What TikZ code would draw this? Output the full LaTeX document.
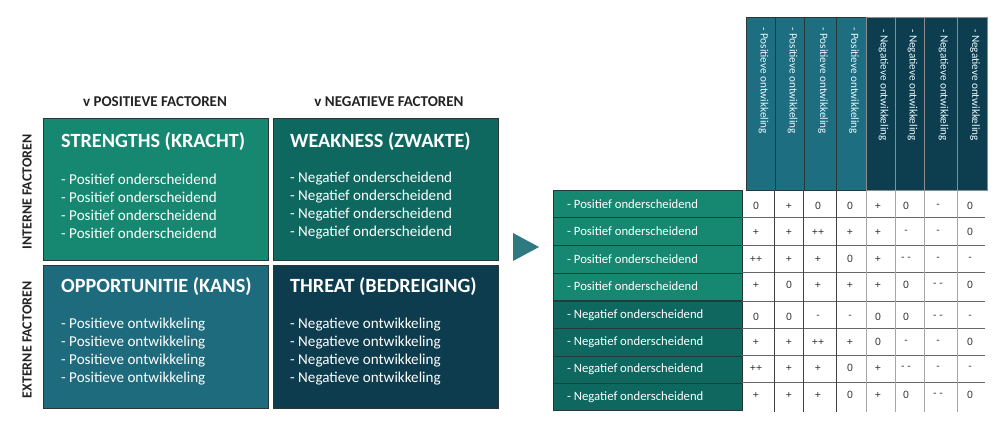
\documentclass[tikz,border=0pt]{standalone}
\usepackage{fontspec}
\setmainfont{Carlito}
\newfontfamily\valfont{Liberation Sans}
\definecolor{sgreen}{RGB}{22,135,112}
\definecolor{wteal}{RGB}{14,104,96}
\definecolor{oblue}{RGB}{29,107,125}
\definecolor{tnavy}{RGB}{13,60,78}
\definecolor{hpos}{RGB}{29,110,128}
\definecolor{hneg}{RGB}{12,62,80}
\definecolor{arrowc}{RGB}{46,122,128}
\definecolor{edgec}{RGB}{40,55,55}
\definecolor{labc}{RGB}{35,35,35}
\definecolor{valc}{RGB}{50,50,50}
\begin{document}
\begin{tikzpicture}[x=1pt,y=-1pt,
  quad/.style={draw=edgec, line width=0.8pt, anchor=north west, inner sep=0pt, minimum width=225, minimum height=142},
  qtitle/.style={anchor=west, text=white, font=\fontsize{20.2}{23}\selectfont\bfseries, inner sep=0pt},
  qline/.style={anchor=west, text=white, font=\fontsize{15.1}{18}\selectfont, inner sep=0pt},
  collab/.style={font=\fontsize{15}{17}\selectfont\bfseries, text=labc, inner sep=0pt},
  sidelab/.style={font=\fontsize{14}{16}\selectfont\bfseries, text=labc, rotate=90, inner sep=0pt},
  hdrbox/.style={anchor=north west, inner sep=0pt, minimum height=173, line width=0.8pt},
  hdrtext/.style={rotate=-90, anchor=west, text=white!92!cyan, font=\fontsize{11.2}{13}\selectfont, inner sep=0pt},
  rowbox/.style={draw=edgec, line width=0.8pt, anchor=north west, inner sep=0pt, minimum width=189},
  rowtext/.style={anchor=west, text=white, font=\fontsize{12.7}{14}\selectfont, inner sep=0pt},
  valtext/.style={text=valc, font=\valfont\fontsize{10.5}{12}\selectfont, inner sep=0pt},
  hline/.style={draw=black!60, line width=0.8pt},
  vdark/.style={draw=black!75, line width=0.9pt},
  vlight/.style={draw=black!35, line width=0.9pt}
]
\useasboundingbox (0,0) rectangle (1000,430);

% column and side labels
\node[collab] (cpos) at (155,102) {v POSITIEVE FACTOREN};
\node[collab] (cneg) at (389,102) {v NEGATIEVE FACTOREN};
\node[sidelab] (sint) at (27,192) {INTERNE FACTOREN};
\node[sidelab] (sext) at (27,340) {EXTERNE FACTOREN};

% quadrants
\node[quad, fill=sgreen] (S) at (43,118) {};
\node[quad, fill=wteal] (W) at (273,118) {};
\node[quad, fill=oblue, minimum height=143] (O) at (43,265) {};
\node[quad, fill=tnavy, minimum height=143] (T) at (273,265) {};

\node[qtitle] (St) at (61,142) {STRENGTHS (KRACHT)};
\node[qtitle] (Wt) at (290,142) {WEAKNESS (ZWAKTE)};
\node[qtitle] (Ot) at (61,287) {OPPORTUNITIE (KANS)};
\node[qtitle] (Tt) at (290,287) {THREAT (BEDREIGING)};

\foreach \i in {1,...,4} {
  \node[qline] (S\i) at (61,161+18*\i) {- Positief onderscheidend};
  \node[qline] (W\i) at (290,161+18*\i) {- Negatief onderscheidend};
  \node[qline] (O\i) at (61,307+18*\i) {- Positieve ontwikkeling};
  \node[qline] (T\i) at (290,307+18*\i) {- Negatieve ontwikkeling};
}

% arrow
\fill[arrowc] (513,233) -- (539,247) -- (513,261) -- cycle;

% header columns
\foreach \a/\b [count=\i] in {746/775,775/804,804/836,836/866} {
  \node[hdrbox, fill=hpos, draw=edgec, minimum width={\b-\a}] (hp\i) at (\a,17) {};
  \node[hdrtext] (hpt\i) at ({(\a+\b)/2+3},27) {- Positieve ontwikkeling};
}
\foreach \a/\b [count=\i] in {866/895,895/924,924/957,957/987} {
  \node[hdrbox, fill=hneg, draw=black!45, minimum width={\b-\a}] (hn\i) at (\a,17) {};
  \node[hdrtext] (hnt\i) at ({(\a+\b)/2+3},29) {- Negatieve ontwikkeling};
}

% row labels
\foreach \t [count=\i] in {190,217.5,245,272.5} {
  \node[rowbox, fill=sgreen, minimum height=27.5] (rp\i) at (553,\t) {};
  \node[rowtext] (rpt\i) at (567,\t+14) {- Positief onderscheidend};
}
\foreach \t [count=\i] in {301,328.25,355.5,382.75} {
  \node[rowbox, fill=wteal, minimum height=27.25] (rn\i) at (553,\t) {};
  \node[rowtext] (rnt\i) at (567,\t+14) {- Negatief onderscheidend};
}

% grid lines
\foreach \y in {217.5,245,272.5,301,328.25,355.5,382.75} {
  \draw[hline] (742,\y) -- (985,\y);
}
\foreach \x in {774,803,836} { \draw[vdark] (\x,190) -- (\x,412); }
\foreach \x in {866,895,924,957} { \draw[vlight] (\x,190) -- (\x,412); }

% values
\foreach \vals/\yy [count=\r] in {
  {0,+,0,0,+,0,-,0}/206,
  {+,+,++,+,+,-,-,0}/232,
  {++,+,+,0,+,- -,-,-}/259,
  {+,0,+,+,+,0,- -,0}/285,
  {0,0,-,-,0,0,- -,-}/317,
  {+,+,++,+,0,-,-,0}/342,
  {++,+,+,0,+,- -,-,-}/368,
  {+,+,+,0,+,0,- -,0}/395} {
  \foreach \v [count=\c] in \vals {
    \pgfmathsetmacro\xx{{756,789,818,850,878,906,938,970}[\c-1]}
    \node[valtext] (v\r-\c) at (\xx,\yy) {\v};
  }
}
\end{tikzpicture}
\end{document}
